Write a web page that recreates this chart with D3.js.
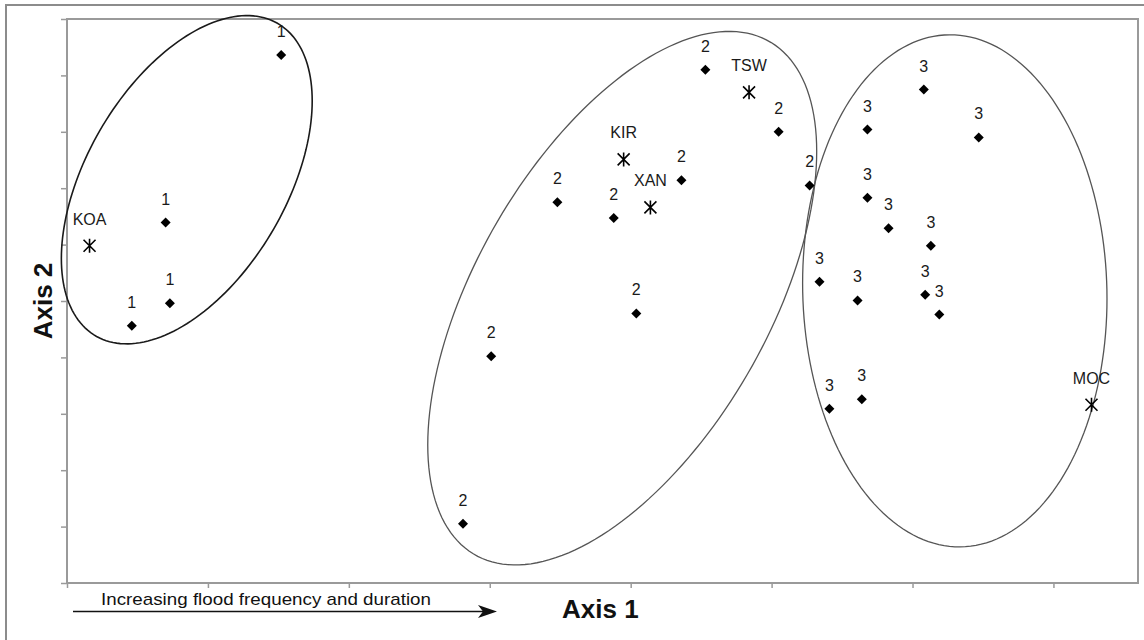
<!DOCTYPE html>
<html>
<head>
  <meta charset="UTF-8">
  <title>Ordination plot</title>
  <script src="https://d3js.org/d3.v7.min.js"></script>
  <style>
    body {
      margin: 0;
      background: #fff;
      font-family: Arial, "Liberation Sans", sans-serif;
    }
    .frame {
      fill: none;
      stroke: #9a9a9a;
      stroke-width: 2;
    }
    .outer {
      fill: none;
      stroke: #8c8c8c;
      stroke-width: 2;
    }
    .axis path {
      display: none;
    }
    .axis line {
      stroke: #9a9a9a;
      stroke-width: 1.5;
    }
    .axis text {
      display: none;
    }
    .pt-label {
      font-size: 16px;
      fill: #1a1a1a;
      text-anchor: middle;
    }
    .axis-title {
      font-size: 26px;
      font-weight: bold;
      fill: #111;
    }
  </style>
</head>
<body>
  <div id="chart"></div>
  <script>
    // samples: cluster id, axis 1 score, axis 2 score
    const sampleGroup = [1, 1, 1, 1,
      2, 2, 2, 2, 2, 2, 2, 2, 2,
      3, 3, 3, 3, 3, 3, 3, 3, 3, 3, 3, 3];
    const sampleAxis1 = [1.52, 0.70, 0.73, 0.46,
      4.53, 5.05, 4.36, 5.27, 3.48, 3.88, 4.04, 3.01, 2.81,
      6.08, 5.68, 6.47, 5.68, 5.83, 6.13, 5.34, 5.61, 6.09, 6.19, 5.64, 5.41];
    const sampleAxis2 = [9.36, 6.39, 4.96, 4.56,
      9.10, 8.00, 7.14, 7.05, 6.75, 6.47, 4.78, 4.02, 1.05,
      8.75, 8.04, 7.90, 6.83, 6.29, 5.98, 5.34, 5.01, 5.11, 4.76, 3.26, 3.09];

    // reference sites
    const siteNames = ["KOA", "KIR", "XAN", "TSW", "MOC"];
    const siteAxis1 = [0.16, 3.95, 4.14, 4.84, 7.27];
    const siteAxis2 = [5.98, 7.51, 6.66, 8.70, 3.16];

    // cluster ellipses: centre, half extent on each axis, correlation
    const ellipseCx = [0.85, 3.94, 6.30];
    const ellipseCy = [7.15, 5.05, 5.18];
    const ellipseHx = [0.89, 1.38, 1.08];
    const ellipseHy = [2.91, 4.73, 4.54];
    const ellipseRho = [0.48, 0.55, -0.03];

    const xTicks = [0, 1, 2, 3, 4, 5, 6, 7];
    const yTicks = [0, 1, 2, 3, 4, 5, 6, 7, 8, 9, 10];

    const W = 1144, H = 640;
    const margin = { top: 19, right: 6, bottom: 57, left: 67 };
    const width = W - margin.left - margin.right;
    const height = H - margin.top - margin.bottom;

    const x = d3.scaleLinear().domain([0, 7.6]).range([0, width]);
    const y = d3.scaleLinear().domain([0, 10]).range([height, 0]);

    const svg = d3.select("#chart").append("svg")
      .attr("width", W)
      .attr("height", H);

    svg.append("rect")
      .attr("class", "outer")
      .attr("x", 6).attr("y", 5)
      .attr("width", W).attr("height", H);

    const g = svg.append("g")
      .attr("transform", `translate(${margin.left},${margin.top})`);

    g.append("g")
      .attr("class", "axis")
      .attr("transform", `translate(0,${height})`)
      .call(d3.axisBottom(x).tickValues(xTicks).tickSize(5).tickSizeOuter(0));

    g.append("g")
      .attr("class", "axis")
      .call(d3.axisLeft(y).tickValues(yTicks).tickSize(6).tickSizeOuter(0));

    g.append("rect")
      .attr("class", "frame")
      .attr("width", width)
      .attr("height", height);

    // ellipses, traced in data space then mapped through the scales
    const ellipseLine = d3.line().curve(d3.curveLinearClosed);
    ellipseCx.forEach((cx, i) => {
      const rho = ellipseRho[i];
      const pts = d3.range(0, 2 * Math.PI, Math.PI / 90).map(t => {
        const dx = ellipseHx[i] * Math.cos(t);
        const dy = ellipseHy[i] * (rho * Math.cos(t) + Math.sqrt(1 - rho * rho) * Math.sin(t));
        return [x(cx + dx), y(ellipseCy[i] + dy)];
      });
      g.append("path")
        .attr("d", ellipseLine(pts))
        .attr("fill", "none")
        .attr("stroke", i === 0 ? "#1a1a1a" : "#555")
        .attr("stroke-width", i === 0 ? 1.6 : 1.3);
    });

    const samples = sampleGroup.map((grp, i) => ({ grp, a1: sampleAxis1[i], a2: sampleAxis2[i] }));
    const sites = siteNames.map((name, i) => ({ name, a1: siteAxis1[i], a2: siteAxis2[i] }));

    const diamond = d3.symbol().type(d3.symbolSquare).size(50);
    g.selectAll(".sample")
      .data(samples)
      .enter()
      .append("path")
      .attr("class", "sample")
      .attr("d", diamond)
      .attr("fill", "#000")
      .attr("transform", d => `translate(${x(d.a1)},${y(d.a2)}) rotate(45)`);

    g.selectAll(".sample-label")
      .data(samples)
      .enter()
      .append("text")
      .attr("class", "pt-label")
      .attr("x", d => x(d.a1))
      .attr("y", d => y(d.a2) - 18)
      .text(d => d.grp);

    // six-armed star for the reference sites
    const star = {
      draw(ctx) {
        ctx.moveTo(0, -7); ctx.lineTo(0, 7);
        ctx.moveTo(-6, -6); ctx.lineTo(6, 6);
        ctx.moveTo(-6, 6); ctx.lineTo(6, -6);
      }
    };
    g.selectAll(".site")
      .data(sites)
      .enter()
      .append("path")
      .attr("class", "site")
      .attr("d", d3.symbol().type(star))
      .attr("fill", "none")
      .attr("stroke", "#000")
      .attr("stroke-width", 1.6)
      .attr("transform", d => `translate(${x(d.a1)},${y(d.a2)})`);

    g.selectAll(".site-label")
      .data(sites)
      .enter()
      .append("text")
      .attr("class", "pt-label")
      .attr("x", d => x(d.a1))
      .attr("y", d => y(d.a2) - 21)
      .text(d => d.name);

    // axis titles
    svg.append("text")
      .attr("class", "axis-title")
      .attr("x", 562)
      .attr("y", 618)
      .text("Axis 1");

    svg.append("text")
      .attr("class", "axis-title")
      .attr("text-anchor", "middle")
      .attr("transform", "translate(52,301) rotate(-90)")
      .text("Axis 2");

    // gradient note with arrow
    svg.append("text")
      .attr("x", 101)
      .attr("y", 605)
      .attr("font-size", 17)
      .attr("fill", "#111")
      .attr("textLength", 330)
      .attr("lengthAdjust", "spacingAndGlyphs")
      .text("Increasing flood frequency and duration");

    svg.append("line")
      .attr("x1", 73).attr("y1", 611.5)
      .attr("x2", 484).attr("y2", 611.5)
      .attr("stroke", "#111")
      .attr("stroke-width", 1.6);

    svg.append("path")
      .attr("d", "M478,605 L497,611.5 L478,618 L483,611.5 Z")
      .attr("fill", "#111");
  </script>
</body>
</html>
